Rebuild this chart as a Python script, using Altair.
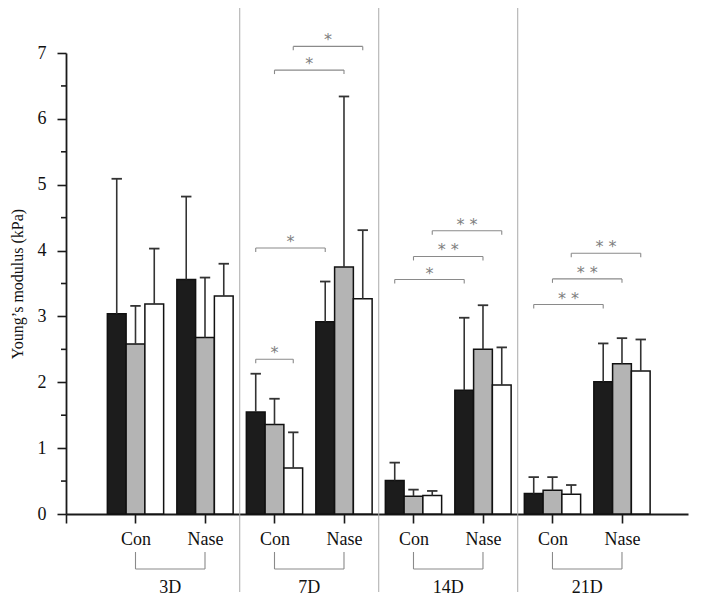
import altair as alt
import pandas as pd

# ---------------- data ----------------
groups = ["3D", "7D", "14D", "21D"]
conds = ["Con", "Nase"]
series = ["A", "B", "C"]          # black, gray, white bars
series_colors = ["#1c1c1c", "#b4b4b4", "#ffffff"]

# mean values per (group, condition) for the three series
means = {
    ("3D", "Con"): [3.04, 2.58, 3.19],
    ("3D", "Nase"): [3.56, 2.68, 3.31],
    ("7D", "Con"): [1.55, 1.36, 0.70],
    ("7D", "Nase"): [2.92, 3.75, 3.27],
    ("14D", "Con"): [0.51, 0.27, 0.28],
    ("14D", "Nase"): [1.88, 2.50, 1.96],
    ("21D", "Con"): [0.31, 0.36, 0.30],
    ("21D", "Nase"): [2.01, 2.28, 2.17],
}
# upper ends of the error bars
upper = {
    ("3D", "Con"): [5.09, 3.16, 4.03],
    ("3D", "Nase"): [4.82, 3.59, 3.80],
    ("7D", "Con"): [2.13, 1.75, 1.24],
    ("7D", "Nase"): [3.53, 6.34, 4.31],
    ("14D", "Con"): [0.78, 0.37, 0.35],
    ("14D", "Nase"): [2.98, 3.17, 2.53],
    ("21D", "Con"): [0.56, 0.56, 0.44],
    ("21D", "Nase"): [2.59, 2.67, 2.65],
}
# significance brackets: group, (cond, series idx) -> (cond, series idx), level, label
sig = [
    ("7D", ("Con", 0), ("Con", 2), 2.35, "*"),
    ("7D", ("Con", 0), ("Nase", 0), 4.04, "*"),
    ("7D", ("Con", 1), ("Nase", 1), 6.74, "*"),
    ("7D", ("Con", 2), ("Nase", 2), 7.10, "*"),
    ("14D", ("Con", 0), ("Nase", 0), 3.56, "*"),
    ("14D", ("Con", 1), ("Nase", 1), 3.91, "* *"),
    ("14D", ("Con", 2), ("Nase", 2), 4.30, "* *"),
    ("21D", ("Con", 0), ("Nase", 0), 3.18, "* *"),
    ("21D", ("Con", 1), ("Nase", 1), 3.57, "* *"),
    ("21D", ("Con", 2), ("Nase", 2), 3.96, "* *"),
]
y_ticks = [0, 1, 2, 3, 4, 5, 6, 7]
y_minor = [0.5, 1.5, 2.5, 3.5, 4.5, 5.5, 6.5]

# ---------------- layout helpers (in data units of the x scale) ----------------
slot = 0.27       # distance between neighbouring bars
half_bar = 0.135  # half bar width
half_cap = 0.075  # half error cap width
X_MAX = 8.95
W, H = 622, 461
FONT = "Liberation Serif, Times New Roman, serif"


def cond_pos(g, c):
    return groups.index(g) * 2 + conds.index(c) + 1


def bar_pos(g, c, s):
    return cond_pos(g, c) + (s - 1) * slot


rows = []
for (g, c), vals in means.items():
    for s, v in enumerate(vals):
        p = bar_pos(g, c, s)
        rows.append(dict(group=g, cond=c, series=series[s], pos=p,
                         x1=p - half_bar, x2=p + half_bar,
                         c1=p - half_cap, c2=p + half_cap,
                         value=v, base=0.0, upper=upper[(g, c)][s]))
df = pd.DataFrame(rows)

sig_rows = []
for g, (ca, sa), (cb, sb), lev, lab in sig:
    a = bar_pos(g, ca, sa)
    b = bar_pos(g, cb, sb)
    sig_rows.append(dict(a=a, b=b, mid=(a + b) / 2, level=lev,
                         low=lev - 0.06, label=lab))
sig_df = pd.DataFrame(sig_rows)

grp_rows = []
for g in groups:
    a = cond_pos(g, "Con")
    b = cond_pos(g, "Nase")
    grp_rows.append(dict(group=g, a=a, b=b, mid=(a + b) / 2))
grp_df = pd.DataFrame(grp_rows)
sep_df = pd.DataFrame({"sep": [i * 2 + 0.5 for i in range(1, len(groups))]})
minor_df = pd.DataFrame({"v": y_minor})

label_expr = ("datum.value == 0 ? '' : (datum.value %% 2 == 1 ? '%s' : '%s')"
              % (conds[0], conds[1]))

xs = alt.Scale(domain=[0, X_MAX], nice=False, zero=False)
ys = alt.Scale(domain=[0, 7], nice=False)

x_axis = alt.Axis(values=list(range(0, 9)), labelExpr=label_expr, title=None,
                  grid=False, domainColor="#1a1a1a", domainWidth=1.8,
                  tickColor="#1a1a1a", tickWidth=1.6, tickSize=9,
                  labelFont=FONT, labelFontSize=18, labelColor="#111",
                  labelPadding=7, labelFlush=False)
y_axis = alt.Axis(values=y_ticks, format="d", title="Young\u2019s modulus (kPa)",
                  grid=False, domainColor="#1a1a1a", domainWidth=1.8,
                  tickColor="#1a1a1a", tickWidth=1.6, tickSize=9,
                  labelFont=FONT, labelFontSize=18, labelColor="#111",
                  labelPadding=11, titleFont=FONT, titleFontSize=16,
                  titleFontWeight="normal", titleColor="#111", titlePadding=12)


def X(f):
    return alt.X(f, scale=xs, axis=x_axis)


def Y(f):
    return alt.Y(f, scale=ys, axis=y_axis)


base = alt.Chart(df)

bars = base.mark_bar(stroke="#111", strokeWidth=1.5).encode(
    x=X("x1:Q"),
    x2="x2:Q",
    y=Y("value:Q"),
    y2="base:Q",
    fill=alt.Fill("series:N", scale=alt.Scale(domain=series, range=series_colors),
                  legend=None),
)
err = base.mark_rule(color="#333", strokeWidth=1.6).encode(
    x=X("pos:Q"), y=Y("value:Q"), y2="upper:Q")
caps = base.mark_rule(color="#333", strokeWidth=1.8).encode(
    x=X("c1:Q"), x2="c2:Q", y=Y("upper:Q"))

sig_base = alt.Chart(sig_df)
sig_h = sig_base.mark_rule(color="#8a8a8a", strokeWidth=1.1).encode(
    x=X("a:Q"), x2="b:Q", y=Y("level:Q"))
sig_l = sig_base.mark_rule(color="#8a8a8a", strokeWidth=1.1).encode(
    x=X("a:Q"), y=Y("level:Q"), y2="low:Q")
sig_r = sig_base.mark_rule(color="#8a8a8a", strokeWidth=1.1).encode(
    x=X("b:Q"), y=Y("level:Q"), y2="low:Q")
sig_t = sig_base.mark_text(color="#808080", font="DejaVu Sans", fontSize=16,
                           baseline="alphabetic", dy=-1).encode(
    x=X("mid:Q"), y=Y("level:Q"), text="label:N")

seps = alt.Chart(sep_df).mark_rule(color="#aaaaaa", strokeWidth=1).encode(
    x=X("sep:Q"), y=alt.value(-45), y2=alt.value(H + 78))

gb = alt.Chart(grp_df)
g_l = gb.mark_rule(color="#8a8a8a", strokeWidth=1.1).encode(
    x=X("a:Q"), y=alt.value(H + 38), y2=alt.value(H + 55))
g_r = gb.mark_rule(color="#8a8a8a", strokeWidth=1.1).encode(
    x=X("b:Q"), y=alt.value(H + 38), y2=alt.value(H + 55))
g_h = gb.mark_rule(color="#8a8a8a", strokeWidth=1.1).encode(
    x=X("a:Q"), x2="b:Q", y=alt.value(H + 55))
g_t = gb.mark_text(font=FONT, fontSize=18, color="#111", baseline="middle").encode(
    x=X("mid:Q"), y=alt.value(H + 74), text="group:N")

minor = alt.Chart(minor_df).mark_rule(color="#1a1a1a", strokeWidth=1.6).encode(
    y=Y("v:Q"), x=alt.value(-5), x2=alt.value(0))

chart = alt.layer(
    bars, seps, err, caps, sig_h, sig_l, sig_r, sig_t,
    g_l, g_r, g_h, g_t, minor
).properties(
    width=W, height=H,
    background="white",
    autosize=alt.AutoSizeParams(type="none"),
    padding={"left": 58, "top": 45, "right": 5, "bottom": 84},
).configure_view(stroke=None).configure_axis(
    labelFont=FONT, titleFont=FONT
)

chart.save("out.html", embed_options={"renderer": "svg", "actions": False})
